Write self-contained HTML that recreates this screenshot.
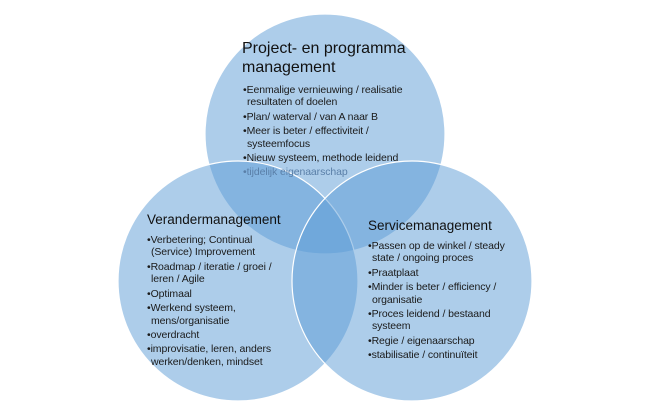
<!DOCTYPE html>
<html><head><meta charset="utf-8"><style>
body{margin:0;width:650px;height:414px;background:#fff;position:relative;overflow:hidden;font-family:"Liberation Sans",sans-serif;}
.t{position:absolute;white-space:nowrap;color:#1a1a1a;font-size:10.5px;line-height:12px;letter-spacing:-0.1px;}
.h{position:absolute;white-space:nowrap;color:#111;line-height:20px;}
</style></head><body>
<svg width="650" height="414" style="position:absolute;left:0;top:0">
<g fill="#5b9bd5" fill-opacity="0.5" stroke="#fff" stroke-width="1.2">
<circle cx="325" cy="134" r="120"/>
<circle cx="238" cy="281" r="120"/>
<circle cx="412" cy="281" r="120"/>
</g>
</svg>
<div class="h" style="left:242px;top:39px;font-size:16px;line-height:19px">Project- en programma<br>management</div>
<div class="t" style="left:243px;top:84px">•Eenmalige vernieuwing / realisatie</div>
<div class="t" style="left:247px;top:96px">resultaten of doelen</div>
<div class="t" style="left:243px;top:111px">•Plan/ waterval / van A naar B</div>
<div class="t" style="left:243px;top:125px">•Meer is beter / effectiviteit /</div>
<div class="t" style="left:247px;top:138px">systeemfocus</div>
<div class="t" style="left:243px;top:152px">•Nieuw systeem, methode leidend</div>
<div class="t" style="left:243px;top:166px;color:#5a7fa8">•tijdelijk eigenaarschap</div>

<div class="h" style="left:147px;top:210px;font-size:13.5px">Verandermanagement</div>
<div class="t" style="left:147px;top:234px">•Verbetering; Continual</div>
<div class="t" style="left:151px;top:246px">(Service) Improvement</div>
<div class="t" style="left:147px;top:261px">•Roadmap / iteratie / groei /</div>
<div class="t" style="left:151px;top:273px">leren / Agile</div>
<div class="t" style="left:147px;top:288px">•Optimaal</div>
<div class="t" style="left:147px;top:302px">•Werkend systeem,</div>
<div class="t" style="left:151px;top:315px">mens/organisatie</div>
<div class="t" style="left:147px;top:329px">•overdracht</div>
<div class="t" style="left:147px;top:343px">•improvisatie, leren, anders</div>
<div class="t" style="left:151px;top:356px">werken/denken, mindset</div>

<div class="h" style="left:368px;top:216px;font-size:13.5px">Servicemanagement</div>
<div class="t" style="left:368px;top:240px">•Passen op de winkel / steady</div>
<div class="t" style="left:372px;top:252px">state / ongoing proces</div>
<div class="t" style="left:368px;top:267px">•Praatplaat</div>
<div class="t" style="left:368px;top:281px">•Minder is beter / efficiency /</div>
<div class="t" style="left:372px;top:294px">organisatie</div>
<div class="t" style="left:368px;top:308px">•Proces leidend / bestaand</div>
<div class="t" style="left:372px;top:320px">systeem</div>
<div class="t" style="left:368px;top:335px">•Regie / eigenaarschap</div>
<div class="t" style="left:368px;top:349px">•stabilisatie / continuïteit</div>
</body></html>
